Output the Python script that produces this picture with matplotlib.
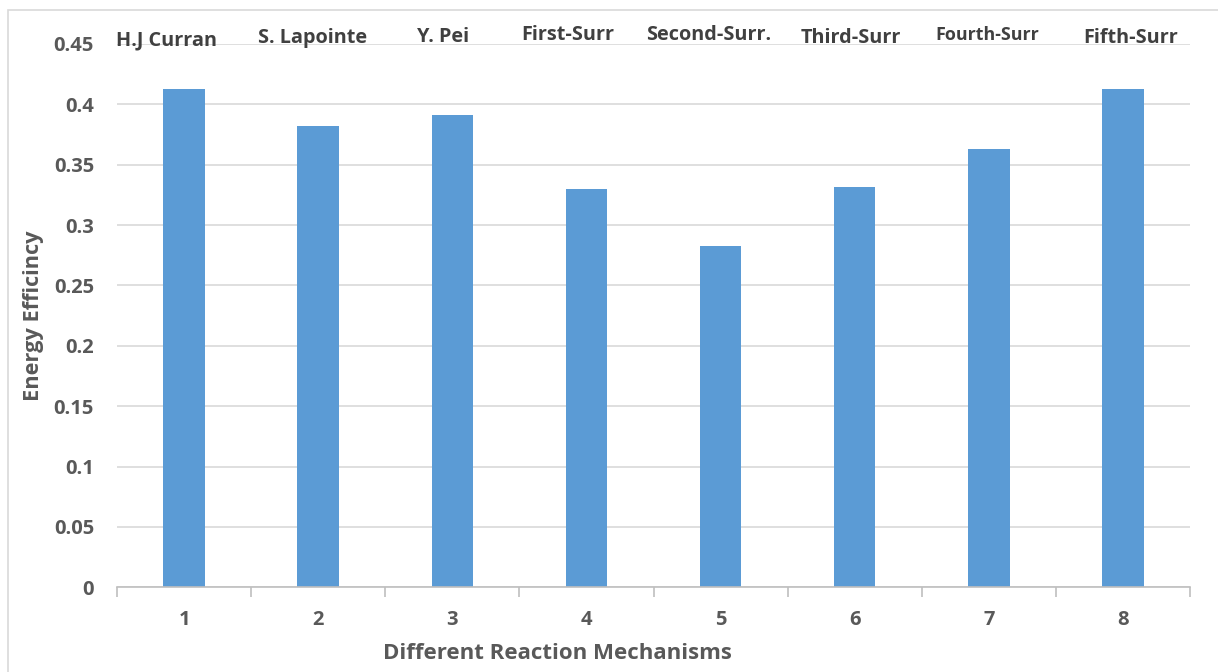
import matplotlib
matplotlib.use('Agg')
import matplotlib.pyplot as plt
from matplotlib.patches import Rectangle
import numpy as np

# Datos del grafico
mecanismos = [1, 2, 3, 4, 5, 6, 7, 8]
eficiencia = [0.4125, 0.382, 0.391, 0.3295, 0.2825, 0.3315, 0.363, 0.4125]
nombres = ["H.J Curran", "S. Lapointe", "Y. Pei", "First-Surr", "Second-Surr.",
           "Third-Surr", "Fourth-Surr", "Fifth-Surr"]
yticks = [0, 0.05, 0.1, 0.15, 0.2, 0.25, 0.3, 0.35, 0.4, 0.45]
ytick_txt = ["0", "0.05", "0.1", "0.15", "0.2", "0.25", "0.3", "0.35", "0.4", "0.45"]

# posicion de cada nombre sobre la grafica (x, y, tamano)
pos_nombres = [(0.87, 0.4532, 14.3), (1.96, 0.4549, 14.3), (2.93, 0.4557, 14.3),
               (3.86, 0.4575, 14.3), (4.91, 0.4572, 14.3), (5.97, 0.4550, 14.3),
               (6.99, 0.4570, 12.9), (8.06, 0.4550, 14.3)]

GRIS = '#595959'
plt.rcParams['font.family'] = ['Open Sans', 'DejaVu Sans']
plt.rcParams['font.weight'] = 'bold'

fig = plt.figure(figsize=(12.18, 6.72), dpi=100)
fig.patches.append(Rectangle((8 / 1218, -0.1), 1.2, 1 - 10 / 672 + 0.1,
                             transform=fig.transFigure, fill=False,
                             edgecolor='#d9d9d9', linewidth=1.2))
ax = fig.add_axes([117 / 1218, 1 - 587.3 / 672, (1190 - 117) / 1218, 543.4 / 672])

ax.bar(mecanismos, eficiencia, width=0.31, color='#5b9bd5', zorder=3)

ax.set_xlim(0.5, 8.5)
ax.set_ylim(0, 0.45)
ax.set_yticks(yticks)
ax.set_yticklabels(ytick_txt)
ax.set_xticks(mecanismos)
ax.set_xticklabels([str(m) for m in mecanismos])
ax.tick_params(axis='both', length=0, labelsize=14.5, colors=GRIS, pad=16.5)
ax.tick_params(axis='x', pad=16)
ax.set_xticks(np.arange(0.5, 9.0, 1.0), minor=True)
ax.tick_params(axis='x', which='minor', length=7, color='#bfbfbf', width=1.2)

ax.grid(axis='y', color='#d9d9d9', linewidth=1.2, zorder=0)
for s in ['top', 'right', 'left']:
    ax.spines[s].set_visible(False)
ax.spines['bottom'].set_color('#bfbfbf')
ax.spines['bottom'].set_linewidth(1.2)
ax.spines['bottom'].set_zorder(4)

for nombre, (x, y, t) in zip(nombres, pos_nombres):
    ax.text(x, y, nombre, ha='center', va='center', fontsize=t,
            color='#404040', fontweight='bold', clip_on=False)

ax.set_xlabel("Different Reaction Mechanisms", fontsize=16, color=GRIS,
              fontweight='bold')
ax.xaxis.set_label_coords((557 - 117) / (1190 - 117), -0.103)
ax.set_ylabel("Energy Efficincy", fontsize=15.7, color=GRIS,
              fontweight='bold')
ax.yaxis.set_label_coords((44 - 117) / (1190 - 117), 0.5)

plt.savefig("out.png", dpi=100)
plt.close()
